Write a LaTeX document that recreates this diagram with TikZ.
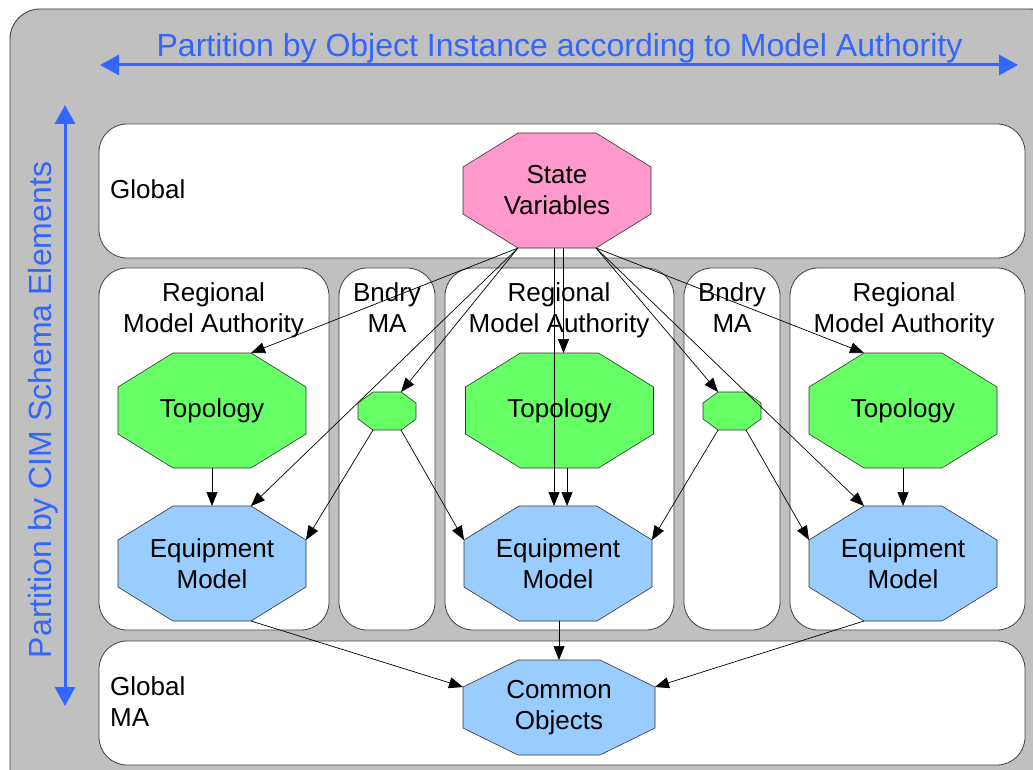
\documentclass[tikz,border=0pt]{standalone}
\usepackage{fontspec}
\setmainfont{Liberation Sans}
\usetikzlibrary{arrows.meta}
\definecolor{panelgray}{HTML}{C0C0C0}
\definecolor{edgegray}{HTML}{404040}
\definecolor{axisblue}{HTML}{3366FF}
\definecolor{statepink}{HTML}{FF99CC}
\definecolor{topogreen}{HTML}{66FF66}
\definecolor{equipblue}{HTML}{99CCFF}

% #1 name, #2 fill, #3/#4 centre, #5/#6 half width/height,
% #7/#8 horizontal/vertical cut of the corners, #9 text
\newcommand{\octagonnode}[9]{%
  \filldraw[octoline, fill=#2]
    (#3-#5+#7,#4-#6) -- (#3+#5-#7,#4-#6) -- (#3+#5,#4-#6+#8) -- (#3+#5,#4+#6-#8)
    -- (#3+#5-#7,#4+#6) -- (#3-#5+#7,#4+#6) -- (#3-#5,#4+#6-#8) -- (#3-#5,#4-#6+#8)
    -- cycle;
  \node[lbl, outer sep=0pt, minimum width={2*#5pt}, minimum height={2*#6pt}]
    (#1) at (#3,#4) {#9};%
}

\begin{document}
\begin{tikzpicture}[x=1pt,y=-1pt,
  lane/.style={draw=edgegray, fill=white, rounded corners=28pt, line width=0.8pt},
  octoline/.style={draw=black!80, line width=0.6pt},
  lbl/.style={inner sep=0pt, align=center, font=\fontsize{26}{31}\selectfont},
  link/.style={-{Triangle[length=14pt,width=11pt]}, line width=0.7pt},
  axis/.style={{Triangle[length=19pt,width=20pt]}-{Triangle[length=19pt,width=20pt]},
    draw=axisblue, line width=3pt},
  axislabel/.style={text=axisblue, font=\fontsize{32}{38}\selectfont, inner sep=0pt}
]
\useasboundingbox (0,0) rectangle (1033,770);
\clip (0,0) rectangle (1033,770);
\fill[white] (0,0) rectangle (1033,770);

% outer grey panel
\draw[fill=panelgray, draw=edgegray, line width=0.9pt, rounded corners=30pt]
  (10,9) rectangle (1060,800);

% partition axes
\coordinate (hl) at (100,65);
\coordinate (hr) at (1018,65);
\coordinate (vt) at (65,105);
\coordinate (vb) at (65,706);
\draw[axis] (hl) -- (hr);
\draw[axis] (vt) -- (vb);
\node[axislabel, anchor=base] (htitle) at (559.5,57)
  {Partition by Object Instance according to Model Authority};
\node[axislabel, rotate=90] (vtitle) at (43,410) {Partition by CIM Schema Elements};

% lanes
\draw[lane] (99,124) rectangle (1025,258);
\draw[lane] (99,268) rectangle (329,630);
\draw[lane] (339,268) rectangle (435,630);
\draw[lane] (445,268) rectangle (674,630);
\draw[lane] (684,268) rectangle (780,630);
\draw[lane] (790,268) rectangle (1025,630);
\draw[lane] (99,641) rectangle (1025,765);

% lane labels
\node[lbl, anchor=base west] (lglobal) at (110,199) {Global};
\node[lbl, anchor=west, align=left] (lgma) at (110,702) {Global\\MA};
\node[lbl, anchor=north] (lr1) at (213.5,282) {Regional\\Model Authority};
\node[lbl, anchor=north] (lb1) at (387,282) {Bndry\\MA};
\node[lbl, anchor=north] (lr2) at (559,282) {Regional\\Model Authority};
\node[lbl, anchor=north] (lb2) at (732,282) {Bndry\\MA};
\node[lbl, anchor=north] (lr3) at (904,282) {Regional\\Model Authority};

% model parts
\octagonnode{sv}{statepink}{557}{190.5}{94}{57.5}{55}{34}{State\\Variables}
\octagonnode{topo1}{topogreen}{212}{410.5}{94}{57.5}{55}{34}{Topology}
\octagonnode{topo2}{topogreen}{559.5}{410.5}{94}{57.5}{55}{34}{Topology}
\octagonnode{topo3}{topogreen}{903}{410.5}{94}{57.5}{55}{34}{Topology}
\octagonnode{eq1}{equipblue}{212}{563.5}{94}{57.5}{55}{34}{Equipment\\Model}
\octagonnode{eq2}{equipblue}{558}{563.5}{94}{57.5}{55}{34}{Equipment\\Model}
\octagonnode{eq3}{equipblue}{903}{563.5}{94}{57.5}{55}{34}{Equipment\\Model}
\octagonnode{s1}{topogreen}{387}{411}{29}{19}{15}{11}{}
\octagonnode{s2}{topogreen}{732}{411}{29}{19}{15}{11}{}
\octagonnode{co}{equipblue}{559}{707.5}{96}{47.5}{55}{27}{Common\\Objects}

% dependencies from the state variables
\draw[link] ([xshift=-39pt]sv.south) -- ([xshift=39pt]topo1.north);
\draw[link] ([xshift=-39pt]sv.south) -- ([xshift=14pt]s1.north);
\draw[link] ([xshift=-39pt]sv.south) -- ([xshift=39pt]eq1.north);
\draw[link] ([xshift=6.5pt]sv.south) -- ([xshift=4pt]topo2.north);
\draw[link] ([xshift=-3pt]sv.south) -- ([xshift=-4pt]eq2.north);
\draw[link] ([xshift=39pt]sv.south) -- ([xshift=-14pt]s2.north);
\draw[link] ([xshift=39pt]sv.south) -- ([xshift=-39pt]topo3.north);
\draw[link] ([xshift=39pt]sv.south) -- ([xshift=-39pt]eq3.north);

% topology to equipment
\draw[link] (topo1.south) -- (eq1.north);
\draw[link] ([xshift=7.5pt]topo2.south) -- ([xshift=9pt]eq2.north);
\draw[link] (topo3.south) -- (eq3.north);

% boundary parts to equipment
\draw[link] ([xshift=-14pt]s1.south) -- ([yshift=23.5pt]eq1.east);
\draw[link] ([xshift=14pt]s1.south) -- ([yshift=23.5pt]eq2.west);
\draw[link] ([xshift=-14pt]s2.south) -- ([yshift=23.5pt]eq2.east);
\draw[link] ([xshift=14pt]s2.south) -- ([yshift=23.5pt]eq3.west);

% equipment to common objects
\draw[link] ([xshift=39pt]eq1.south) -- ([yshift=20.5pt]co.west);
\draw[link] ([xshift=1pt]eq2.south) -- (co.north);
\draw[link] ([xshift=-39pt]eq3.south) -- ([yshift=20.5pt]co.east);
\end{tikzpicture}
\end{document}
